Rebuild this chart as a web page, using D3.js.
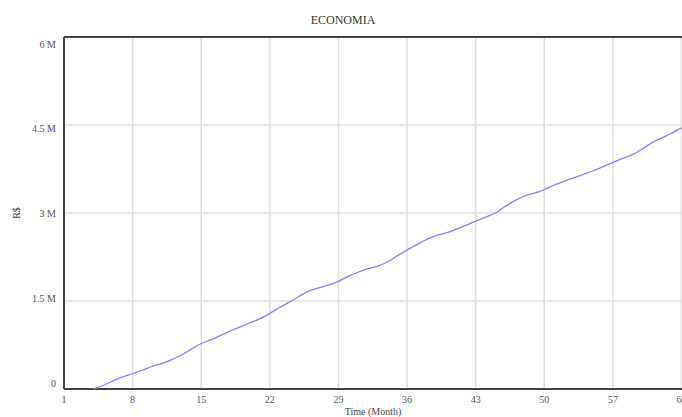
<!DOCTYPE html>
<html><head><meta charset="utf-8">
<script src="https://cdn.jsdelivr.net/npm/d3@7"></script>
<style>body{margin:0;background:#fff}svg{display:block}</style>
</head><body>
<script>
const title = "ECONOMIA";
const xLabel = "Time (Month)";
const yLabel = "R$";
const xTicks = [1, 8, 15, 22, 29, 36, 43, 50, 57, 64];
const yTicks = [0, 1500000, 3000000, 4500000, 6000000];
const yTickLabels = ["0", "1.5 M", "3 M", "4.5 M", "6 M"];
const months = [4,5,6,7,8,9,10,11,12,13,14,15,16,17,18,19,20,21,22,23,24,25,26,27,28,29,30,31,32,33,34,35,36,37,38,39,40,41,42,43,44,45,46,47,48,49,50,51,52,53,54,55,56,57,58,59,60,61,62,63,64];
const economia = [0,60000,140000,205000,260000,320000,385000,435000,500000,580000,680000,775000,840000,915000,990000,1060000,1130000,1200000,1290000,1390000,1480000,1580000,1670000,1725000,1775000,1835000,1920000,1990000,2050000,2095000,2165000,2270000,2370000,2460000,2550000,2615000,2660000,2720000,2790000,2860000,2930000,3000000,3110000,3210000,3290000,3340000,3400000,3475000,3540000,3600000,3660000,3720000,3790000,3860000,3930000,3995000,4090000,4200000,4280000,4360000,4450000];

const W = 682, H = 417;
const svg = d3.select("body").append("svg").attr("width", W).attr("height", H);
const x = d3.scaleLinear().domain([1, 64]).range([64, 681.5]);
const y = d3.scaleLinear().domain([0, 6000000]).range([389, 37]);
const yLab = d3.scaleLinear().domain([0, 6000000]).range([383, 44]);
const font = "'Liberation Serif', 'DejaVu Serif', serif";

// grid
svg.append("g").selectAll("line").data(xTicks).join("line")
  .attr("x1", d => x(d)).attr("x2", d => x(d)).attr("y1", y(6000000)).attr("y2", y(0))
  .attr("stroke", "#dcdcdc").attr("stroke-width", 1.5);
svg.append("g").selectAll("line").data(yTicks).join("line")
  .attr("x1", x(1)).attr("x2", W).attr("y1", d => y(d)).attr("y2", d => y(d))
  .attr("stroke", "#dcdcdc").attr("stroke-width", 1.5);

// frame
svg.append("line").attr("x1", x(1)).attr("x2", W).attr("y1", y(6000000)).attr("y2", y(6000000)).attr("stroke", "#444").attr("stroke-width", 2);
svg.append("line").attr("x1", x(1)).attr("x2", W).attr("y1", y(0)).attr("y2", y(0)).attr("stroke", "#444").attr("stroke-width", 2);
svg.append("line").attr("x1", x(1)).attr("x2", x(1)).attr("y1", y(6000000)).attr("y2", y(0)).attr("stroke", "#444").attr("stroke-width", 2);

// line
const line = d3.line().x((d, i) => x(months[i])).y(d => y(d)).curve(d3.curveMonotoneX);
svg.append("path").datum(economia).attr("d", line).attr("fill", "none")
  .attr("stroke", "#8282f6").attr("stroke-width", 1.3);

// x tick labels
svg.append("g").selectAll("text").data(xTicks).join("text")
  .attr("x", d => x(d)).attr("y", 403).attr("text-anchor", "middle")
  .attr("font-family", font).attr("font-size", 10).attr("fill", "#555").text(d => d);
// y tick labels
svg.append("g").selectAll("text").data(yTicks).join("text")
  .attr("x", 56).attr("y", d => yLab(d) + 3.5).attr("text-anchor", "end")
  .attr("font-family", font).attr("font-size", 10).attr("fill", "#555")
  .text((d, i) => yTickLabels[i]);

svg.append("text").attr("x", 343).attr("y", 24).attr("text-anchor", "middle")
  .attr("font-family", font).attr("font-size", 12).attr("fill", "#333").text(title);
svg.append("text").attr("x", 373).attr("y", 415).attr("text-anchor", "middle")
  .attr("font-family", font).attr("font-size", 10).attr("fill", "#444").text(xLabel);
svg.append("text").attr("transform", "translate(20,213) rotate(-90)").attr("text-anchor", "middle")
  .attr("font-family", font).attr("font-size", 10).attr("fill", "#444").text(yLabel);
</script>
</body></html>
